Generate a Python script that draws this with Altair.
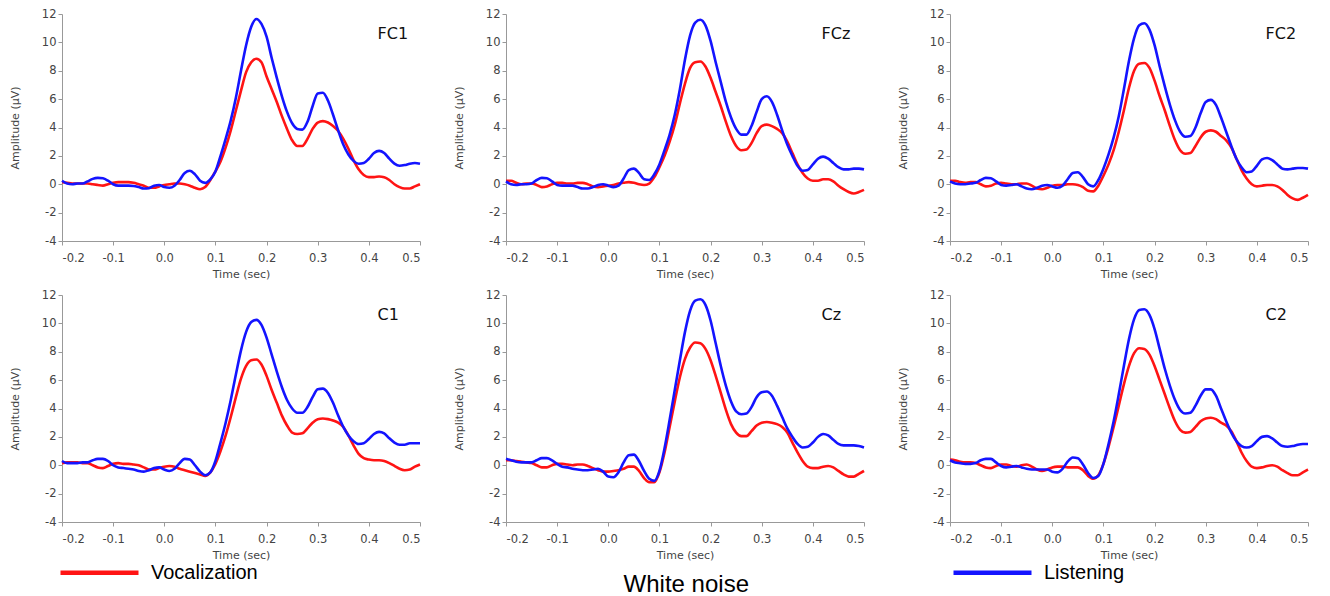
import altair as alt
import pandas as pd

ELECTRODES = ["FC1", "FCz", "FC2", "C1", "Cz", "C2"]
CONDITIONS = ["Vocalization", "Listening"]
COLORS = ["#ff1414", "#1414ff"]
TIME = [round(-0.2 + 0.01 * i, 2) for i in range(71)]
X_TICKS = [-0.2, -0.1, 0.0, 0.1, 0.2, 0.3, 0.4, 0.5]
Y_TICKS = [-4, -2, 0, 2, 4, 6, 8, 10, 12]

FC1_L = [0.25, 0.05, 0.0, 0.05, 0.05, 0.2, 0.38, 0.45, 0.42, 0.25,
         0.0, -0.1, -0.1, -0.1, -0.12, -0.2, -0.3, -0.28, -0.1, -0.05,
         -0.2, -0.25, -0.1, 0.3, 0.8, 0.95, 0.7, 0.25, 0.1, 0.35,
         0.9, 2.0, 3.2, 4.5, 6.1, 8.0, 9.8, 11.1, 11.65, 11.3,
         10.4, 8.9, 7.5, 6.2, 5.1, 4.3, 3.9, 3.85, 4.4, 5.5,
         6.4, 6.45, 5.9, 4.9, 3.8, 2.8, 2.1, 1.65, 1.45, 1.5,
         1.8, 2.2, 2.35, 2.2, 1.8, 1.45, 1.3, 1.35, 1.45, 1.5, 1.45]
FC1_V = [0.15, 0.1, 0.05, 0.05, 0.05, 0.05, 0.0, -0.05, -0.1, 0.0,
         0.1, 0.15, 0.15, 0.15, 0.1, 0.0, -0.1, -0.25, -0.25, -0.15,
         -0.05, 0.0, 0.05, 0.05, 0.0, -0.1, -0.25, -0.35, -0.2, 0.3,
         0.9, 1.6, 2.6, 3.8, 5.2, 6.6, 7.9, 8.6, 8.85, 8.6,
         7.6, 6.7, 5.8, 4.8, 3.9, 3.1, 2.7, 2.7, 3.2, 3.9,
         4.35, 4.45, 4.35, 4.1, 3.75, 3.2, 2.5, 1.7, 1.05, 0.65,
         0.5, 0.5, 0.55, 0.5, 0.3, 0.0, -0.2, -0.3, -0.3, -0.15, 0.0]
FCZ_L = [0.2, 0.0, -0.05, 0.0, 0.0, 0.05, 0.3, 0.45, 0.42, 0.2,
         -0.05, -0.1, -0.1, -0.1, -0.2, -0.3, -0.3, -0.2, -0.05, 0.0,
         -0.1, -0.2, -0.1, 0.4, 1.0, 1.1, 0.8, 0.35, 0.3, 0.7,
         1.4, 2.4, 3.5, 4.9, 6.7, 8.8, 10.5, 11.4, 11.6, 11.2,
         10.1, 8.6, 7.2, 5.8, 4.7, 3.9, 3.5, 3.5, 4.1, 5.1,
         6.0, 6.2, 5.8, 4.9, 3.8, 2.8, 2.0, 1.3, 0.95, 1.0,
         1.4, 1.8, 1.95, 1.8, 1.5, 1.2, 1.05, 1.05, 1.1, 1.1, 1.05]
FCZ_V = [0.25, 0.25, 0.1, 0.0, 0.05, 0.05, -0.05, -0.2, -0.15, 0.0,
         0.1, 0.1, 0.05, 0.05, 0.1, 0.1, 0.0, -0.15, -0.2, -0.15,
         -0.1, -0.05, 0.05, 0.1, 0.15, 0.1, 0.0, -0.05, 0.05, 0.5,
         1.2, 2.0, 3.0, 4.2, 5.7, 7.1, 8.2, 8.6, 8.65, 8.3,
         7.5, 6.5, 5.5, 4.4, 3.4, 2.7, 2.4, 2.45, 2.9, 3.6,
         4.1, 4.2, 4.1, 3.9, 3.6, 3.0, 2.2, 1.4, 0.8, 0.4,
         0.25, 0.25, 0.35, 0.35, 0.2, -0.1, -0.35, -0.55, -0.65, -0.55, -0.4]
FC2_L = [0.2, 0.05, 0.0, 0.0, 0.05, 0.1, 0.3, 0.45, 0.42, 0.2,
         -0.05, -0.1, -0.05, 0.0, -0.15, -0.3, -0.35, -0.25, -0.1, -0.05,
         -0.15, -0.25, -0.1, 0.35, 0.8, 0.85, 0.5, 0.0, -0.15, 0.3,
         1.1, 2.1, 3.3, 4.8, 6.7, 8.7, 10.3, 11.2, 11.35, 10.9,
         9.8, 8.3, 6.9, 5.6, 4.5, 3.7, 3.35, 3.4, 4.0, 5.0,
         5.8, 5.95, 5.6, 4.7, 3.7, 2.7, 1.8, 1.2, 0.85, 0.9,
         1.3, 1.75, 1.85, 1.7, 1.4, 1.1, 1.05, 1.1, 1.15, 1.15, 1.1]
FC2_V = [0.25, 0.25, 0.15, 0.1, 0.15, 0.15, 0.0, -0.15, -0.1, 0.05,
         0.1, 0.05, 0.0, 0.0, 0.05, 0.05, -0.1, -0.3, -0.35, -0.25,
         -0.1, -0.05, -0.05, 0.0, 0.0, -0.05, -0.2, -0.45, -0.5, -0.1,
         0.6, 1.4, 2.4, 3.7, 5.2, 6.8, 8.0, 8.5, 8.55, 8.2,
         7.3, 6.2, 5.2, 4.1, 3.1, 2.4, 2.15, 2.2, 2.7, 3.3,
         3.7, 3.8, 3.7, 3.4, 3.1, 2.6, 1.8, 1.0, 0.4, 0.0,
         -0.15, -0.1, -0.05, -0.05, -0.15, -0.4, -0.75, -1.0, -1.1, -0.95, -0.75]
C1_L = [0.3, 0.15, 0.15, 0.15, 0.2, 0.2, 0.35, 0.45, 0.45, 0.3,
        0.0, -0.15, -0.2, -0.25, -0.3, -0.4, -0.45, -0.35, -0.2, -0.15,
        -0.3, -0.4, -0.25, 0.15, 0.45, 0.4, 0.0, -0.45, -0.7, -0.5,
        0.3, 1.6, 3.0, 4.6, 6.4, 8.1, 9.4, 10.1, 10.25, 9.9,
        9.0, 7.8, 6.6, 5.5, 4.6, 4.0, 3.7, 3.7, 4.1, 4.8,
        5.35, 5.4, 5.1, 4.4, 3.5, 2.7, 2.1, 1.7, 1.5, 1.55,
        1.85, 2.2, 2.35, 2.25, 1.9, 1.6, 1.45, 1.45, 1.55, 1.55, 1.55]
C1_V = [0.15, 0.2, 0.2, 0.2, 0.15, 0.15, 0.0, -0.15, -0.2, -0.05,
        0.1, 0.15, 0.1, 0.1, 0.05, 0.0, -0.15, -0.3, -0.3, -0.2,
        -0.1, -0.05, -0.1, -0.25, -0.35, -0.45, -0.55, -0.65, -0.75, -0.5,
        0.1, 1.0, 2.1, 3.4, 4.8, 6.1, 7.0, 7.4, 7.45, 7.1,
        6.3, 5.3, 4.4, 3.5, 2.8, 2.3, 2.2, 2.25, 2.6, 3.0,
        3.25, 3.3, 3.25, 3.15, 3.0, 2.7, 2.1, 1.4, 0.8, 0.5,
        0.4, 0.35, 0.35, 0.3, 0.15, -0.05, -0.25, -0.35, -0.3, -0.1, 0.05]
CZ_L = [0.45, 0.35, 0.25, 0.2, 0.2, 0.2, 0.35, 0.5, 0.5, 0.35,
        0.1, -0.1, -0.15, -0.25, -0.3, -0.35, -0.35, -0.3, -0.25, -0.45,
        -0.8, -0.85, -0.5, 0.2, 0.7, 0.75, 0.3, -0.4, -0.95, -1.1,
        -0.4, 1.2, 3.2, 5.3, 7.4, 9.4, 10.9, 11.6, 11.7, 11.3,
        10.2, 8.6, 7.0, 5.6, 4.5, 3.8, 3.6, 3.65, 4.1, 4.8,
        5.15, 5.2, 4.9, 4.2, 3.4, 2.6, 2.0, 1.5, 1.25, 1.3,
        1.6, 2.0, 2.2, 2.1, 1.8, 1.5, 1.4, 1.4, 1.4, 1.35, 1.25]
CZ_V = [0.35, 0.35, 0.3, 0.25, 0.2, 0.15, 0.0, -0.15, -0.15, 0.0,
        0.1, 0.1, 0.05, 0.0, 0.05, 0.05, -0.05, -0.2, -0.35, -0.45,
        -0.45, -0.4, -0.35, -0.25, -0.1, -0.1, -0.4, -0.9, -1.2, -1.2,
        -0.5, 0.9, 2.7, 4.5, 6.2, 7.5, 8.3, 8.65, 8.6, 8.2,
        7.4, 6.3, 5.1, 3.9, 2.9, 2.3, 2.05, 2.05, 2.4, 2.8,
        3.0, 3.05, 3.0, 2.9, 2.7, 2.3, 1.6, 0.9, 0.3, -0.1,
        -0.2, -0.2, -0.1, -0.05, -0.15, -0.4, -0.65, -0.8, -0.8, -0.6, -0.4]
C2_L = [0.35, 0.2, 0.15, 0.1, 0.1, 0.15, 0.35, 0.45, 0.45, 0.2,
        -0.05, -0.15, -0.1, -0.05, -0.15, -0.25, -0.3, -0.3, -0.3, -0.3,
        -0.45, -0.5, -0.25, 0.25, 0.55, 0.5, 0.05, -0.55, -0.9, -0.75,
        0.1, 1.5, 3.1, 5.0, 7.0, 8.9, 10.3, 10.95, 11.0, 10.6,
        9.6, 8.2, 6.8, 5.6, 4.6, 3.9, 3.65, 3.7, 4.2, 4.9,
        5.35, 5.35, 4.9, 4.0, 3.1, 2.3, 1.7, 1.35, 1.25, 1.35,
        1.7, 2.0, 2.05, 1.9, 1.6, 1.35, 1.3, 1.35, 1.45, 1.5, 1.5]
C2_V = [0.4, 0.35, 0.25, 0.2, 0.2, 0.15, 0.0, -0.15, -0.2, -0.05,
        0.05, 0.05, -0.05, -0.1, 0.0, 0.05, -0.1, -0.3, -0.4, -0.3,
        -0.15, -0.1, -0.1, -0.15, -0.15, -0.15, -0.35, -0.75, -0.95, -0.7,
        0.1, 1.3, 2.7, 4.2, 5.7, 7.0, 7.9, 8.25, 8.2, 7.8,
        7.0, 6.0, 5.0, 4.0, 3.1, 2.5, 2.3, 2.35, 2.7, 3.1,
        3.3, 3.35, 3.25, 3.0, 2.8, 2.4, 1.7, 0.9, 0.3, -0.1,
        -0.2, -0.15, -0.05, 0.0, -0.1, -0.35, -0.55, -0.7, -0.7, -0.5, -0.3]

SERIES = {
    "FC1": (FC1_V, FC1_L), "FCz": (FCZ_V, FCZ_L), "FC2": (FC2_V, FC2_L),
    "C1": (C1_V, C1_L), "Cz": (CZ_V, CZ_L), "C2": (C2_V, C2_L),
}

rows = []
for el in ELECTRODES:
    voc, lis = SERIES[el]
    assert len(voc) == len(TIME) and len(lis) == len(TIME), el
    for cond, vals in zip(CONDITIONS, (voc, lis)):
        for t, v in zip(TIME, vals):
            rows.append({"electrode": el, "condition": cond, "time": t, "amp": v})
df = pd.DataFrame(rows)

AX_FONT = "DejaVu Sans"
GRAY = "#999999"
LAB = "#444444"
MINUS = "replace(datum.label, '\u2212', '-')"

X_SCALE = alt.Scale(domain=[-0.2, 0.5], nice=False, zero=False)
Y_SCALE = alt.Scale(domain=[-4, 12], nice=False, zero=False)
X_AXIS = alt.Axis(values=X_TICKS, format=".1f", labelExpr=MINUS, grid=False,
                  title="Time (sec)", titlePadding=5, labelPadding=7)
Y_AXIS = alt.Axis(values=Y_TICKS, labelExpr=MINUS, grid=False,
                  title="Amplitude (\u00b5V)", titlePadding=21)


def panel(el):
    lines = alt.Chart(df[df.electrode == el]).mark_line(
        strokeWidth=2.6, interpolate="monotone"
    ).encode(
        x=alt.X("time:Q", scale=X_SCALE, axis=X_AXIS),
        y=alt.Y("amp:Q", scale=Y_SCALE, axis=Y_AXIS),
        color=alt.Color("condition:N",
                        scale=alt.Scale(domain=CONDITIONS, range=COLORS),
                        legend=alt.Legend(
                            orient="none", legendX=22, legendY=543,
                            direction="horizontal", title=None,
                            symbolType="M-3,0H3", symbolSize=676,
                            symbolStrokeWidth=4.5,
                            labelFont="Liberation Sans", labelFontSize=20,
                            labelColor="black", labelOffset=36,
                            columnPadding=686, padding=0)),
        detail="condition:N",
    )
    label = alt.Chart(pd.DataFrame({"name": [el]})).mark_text(
        align="left", baseline="middle", font=AX_FONT, fontSize=16, color="#111111"
    ).encode(
        x=alt.XDatum(0.417, scale=X_SCALE, axis=X_AXIS),
        y=alt.YDatum(10.6, scale=Y_SCALE, axis=Y_AXIS),
        text="name:N",
    )
    return alt.layer(lines, label).properties(width=358, height=227)


chart = alt.concat(
    *[panel(e) for e in ELECTRODES], columns=3,
    spacing={"row": 54, "column": 86}, bounds="flush",
).properties(
    padding={"left": 1, "top": 0, "right": 0, "bottom": 0},
    title=alt.TitleParams("White noise", orient="bottom", anchor="middle",
                          dx=25,
                          font="Liberation Sans", fontSize=24, fontWeight="normal",
                          color="black", offset=-10),
).configure(background="white").configure_view(stroke=None).configure_axis(
    domainColor=GRAY, tickColor=GRAY, tickSize=4, grid=False,
    labelFont=AX_FONT, labelFontSize=11.5, labelColor=LAB,
    titleFont=AX_FONT, titleFontSize=11, titleFontWeight="normal", titleColor=LAB,
)

chart.save("out.html", embed_options={"renderer": "svg", "actions": False})
